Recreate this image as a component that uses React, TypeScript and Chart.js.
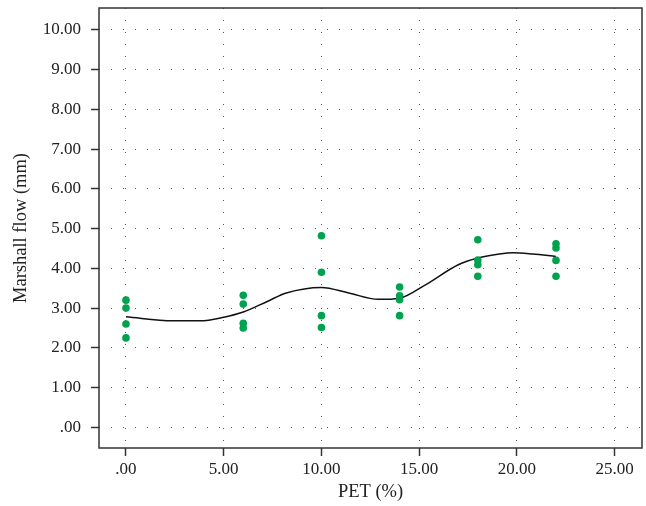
import React, { useEffect, useRef } from 'react';
import { Chart, registerables } from 'chart.js';

Chart.register(...registerables);

// Scatter observations: PET content (%) and Marshall flow (mm)
const petValues = [0, 0, 0, 0, 6, 6, 6, 6, 10, 10, 10, 10, 14, 14, 14, 14, 18, 18, 18, 18, 22, 22, 22, 22];
const flowValues = [3.2, 3.0, 2.6, 2.25, 3.32, 3.1, 2.62, 2.5, 4.82, 3.9, 2.81, 2.51, 3.53, 3.31, 3.21, 2.81, 4.72, 4.21, 4.09, 3.8, 4.62, 4.51, 4.2, 3.8];

// Fitted smooth curve
const curvePet = [0, 2.4, 3.8, 5, 6, 7.2, 8.2, 10, 11.4, 12.9, 14, 15.3, 17, 18, 19.1, 19.8, 20.8, 22];
const curveFlow = [2.78, 2.68, 2.68, 2.77, 2.9, 3.16, 3.38, 3.52, 3.38, 3.22, 3.25, 3.58, 4.09, 4.26, 4.36, 4.39, 4.36, 4.3];

const xTicks = [0, 5, 10, 15, 20, 25];
const yTicks = [0, 1, 2, 3, 4, 5, 6, 7, 8, 9, 10];

const xTitle = 'PET (%)';
const yTitle = 'Marshall flow (mm)';

const fmt = (v: number) => (v === 0 ? '.00' : v.toFixed(2));

const borderPlugin = {
  id: 'boxBorder',
  afterDraw(chart: any) {
    const { ctx, chartArea } = chart;
    ctx.save();
    ctx.strokeStyle = '#333';
    ctx.lineWidth = 1.5;
    ctx.strokeRect(chartArea.left, chartArea.top, chartArea.right - chartArea.left, chartArea.bottom - chartArea.top);
    ctx.restore();
  },
};

export default function App() {
  const ref = useRef<HTMLCanvasElement | null>(null);

  useEffect(() => {
    if (!ref.current) return;
    const family = "'Liberation Serif', 'DejaVu Serif', serif";
    const tickFont = { family, size: 17 };
    const titleFont = { family, size: 18.5 };
    const gridOpts = {
      color: '#555',
      lineWidth: 1,
      drawTicks: true,
      tickLength: 8,
      tickColor: '#333',
      tickWidth: 1.5,
      tickBorderDash: [],
    };
    const chart = new Chart(ref.current, {
      type: 'scatter',
      data: {
        datasets: [
          {
            type: 'line',
            data: curvePet.map((x, i) => ({ x, y: curveFlow[i] })),
            borderColor: '#111',
            borderWidth: 1.5,
            pointRadius: 0,
            fill: false,
            cubicInterpolationMode: 'monotone',
            order: 2,
          } as any,
          {
            type: 'scatter',
            data: petValues.map((x, i) => ({ x, y: flowValues[i] })),
            backgroundColor: '#00A24F',
            borderColor: '#00A24F',
            borderWidth: 0,
            pointRadius: 3.8,
            order: 1,
          },
        ],
      },
      options: {
        animation: false,
        responsive: false,
        events: [],
        layout: { padding: { top: 8, right: 2, left: 0, bottom: 0 } },
        plugins: { legend: { display: false }, tooltip: { enabled: false } },
        scales: {
          x: {
            type: 'linear',
            min: -1.38,
            max: 26.4,
            afterBuildTicks: (s: any) => {
              s.ticks = xTicks.map((v) => ({ value: v }));
            },
            afterFit: (s: any) => {
              s.height = 58;
              s.paddingLeft = 0;
              s.paddingRight = 0;
            },
            ticks: { callback: (v: any) => fmt(Number(v)), color: '#222', font: tickFont, padding: 3, maxRotation: 0 },
            grid: gridOpts,
            border: { display: false, dash: [1, 11] },
            title: { display: true, text: xTitle, color: '#222', font: titleFont, padding: { top: 2, bottom: 3 } },
          },
          y: {
            type: 'linear',
            min: -0.52,
            max: 10.55,
            afterBuildTicks: (s: any) => {
              s.ticks = yTicks.map((v) => ({ value: v }));
            },
            afterFit: (s: any) => {
              s.width = 99;
              s.paddingTop = 0;
              s.paddingBottom = 0;
            },
            ticks: { callback: (v: any) => fmt(Number(v)), color: '#222', font: tickFont, padding: 10 },
            grid: gridOpts,
            border: { display: false, dash: [1, 11] },
            title: { display: true, text: yTitle, color: '#222', font: titleFont, padding: { top: 10, bottom: 4 } },
          },
        },
      },
      plugins: [borderPlugin],
    } as any);
    return () => chart.destroy();
  }, []);

  return (
    <div style={{ position: 'fixed', left: 0, top: 0, width: 646, height: 506, background: '#fff' }}>
      <canvas ref={ref} width={646} height={506} style={{ width: 646, height: 506, display: 'block' }} />
    </div>
  );
}
